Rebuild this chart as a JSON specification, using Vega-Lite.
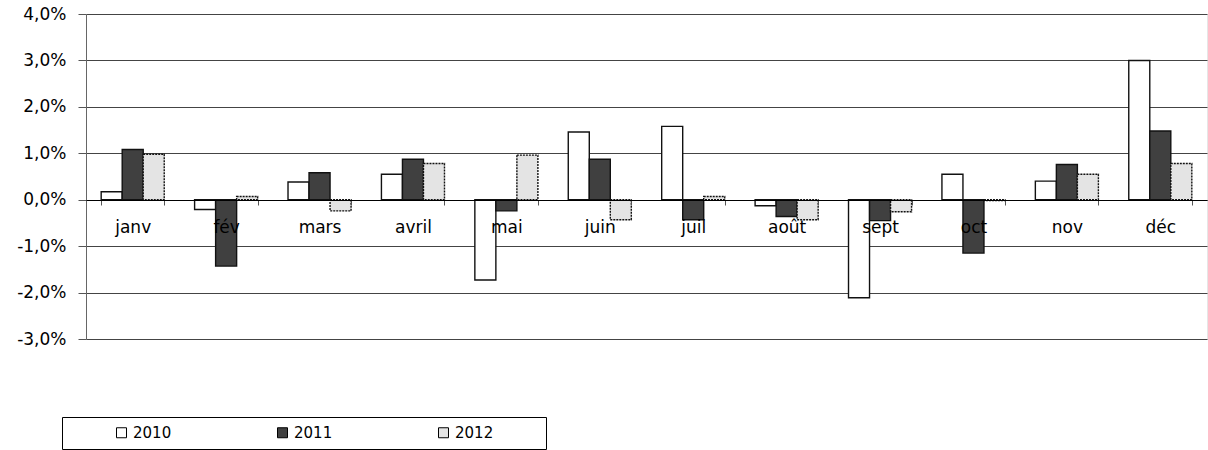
{
  "$schema": "https://vega.github.io/schema/vega-lite/v6.json",
  "autosize": {"type": "none"},
  "padding": {"left": 86, "top": 14, "right": 1, "bottom": 111},
  "width": 1121,
  "height": 325,
  "background": "white",
  "config": {
    "font": "DejaVu Sans",
    "view": {"stroke": "#e6e6e6"}
  },
  "data": {
    "values": [
      {"month": "janv", "year": "2010", "value": 0.17},
      {"month": "janv", "year": "2011", "value": 1.08},
      {"month": "janv", "year": "2012", "value": 0.98},
      {"month": "fév", "year": "2010", "value": -0.21},
      {"month": "fév", "year": "2011", "value": -1.43},
      {"month": "fév", "year": "2012", "value": 0.07},
      {"month": "mars", "year": "2010", "value": 0.38},
      {"month": "mars", "year": "2011", "value": 0.58},
      {"month": "mars", "year": "2012", "value": -0.24},
      {"month": "avril", "year": "2010", "value": 0.55},
      {"month": "avril", "year": "2011", "value": 0.87},
      {"month": "avril", "year": "2012", "value": 0.78},
      {"month": "mai", "year": "2010", "value": -1.73},
      {"month": "mai", "year": "2011", "value": -0.24},
      {"month": "mai", "year": "2012", "value": 0.96},
      {"month": "juin", "year": "2010", "value": 1.46},
      {"month": "juin", "year": "2011", "value": 0.87},
      {"month": "juin", "year": "2012", "value": -0.43},
      {"month": "juil", "year": "2010", "value": 1.58},
      {"month": "juil", "year": "2011", "value": -0.43},
      {"month": "juil", "year": "2012", "value": 0.07},
      {"month": "août", "year": "2010", "value": -0.13},
      {"month": "août", "year": "2011", "value": -0.36},
      {"month": "août", "year": "2012", "value": -0.43},
      {"month": "sept", "year": "2010", "value": -2.11},
      {"month": "sept", "year": "2011", "value": -0.45},
      {"month": "sept", "year": "2012", "value": -0.26},
      {"month": "oct", "year": "2010", "value": 0.55},
      {"month": "oct", "year": "2011", "value": -1.15},
      {"month": "oct", "year": "2012", "value": -0.02},
      {"month": "nov", "year": "2010", "value": 0.40},
      {"month": "nov", "year": "2011", "value": 0.76},
      {"month": "nov", "year": "2012", "value": 0.55},
      {"month": "déc", "year": "2010", "value": 3.0},
      {"month": "déc", "year": "2011", "value": 1.48},
      {"month": "déc", "year": "2012", "value": 0.78}
    ]
  },
  "mark": {"type": "bar", "stroke": "#111", "strokeWidth": 1.4},
  "encoding": {
    "x": {
      "field": "month",
      "type": "nominal",
      "sort": null,
      "scale": {"paddingInner": 0.325, "paddingOuter": 0.1625},
      "axis": {
        "title": null,
        "orient": "bottom",
        "offset": -139,
        "zindex": 1,
        "labelAngle": 0,
        "labelFontSize": 17,
        "labelColor": "black",
        "labelPadding": 14,
        "domainColor": "black",
        "domainWidth": 1,
        "tickBand": "extent",
        "tickSize": 5,
        "tickColor": "#555",
        "grid": false
      }
    },
    "xOffset": {
      "field": "year",
      "type": "nominal",
      "sort": ["2010", "2011", "2012"],
      "scale": {"paddingInner": 0, "paddingOuter": 0}
    },
    "y": {
      "field": "value",
      "type": "quantitative",
      "scale": {"domain": [-3, 4], "nice": false, "zero": false},
      "axis": {
        "title": null,
        "values": [-3, -2, -1, 0, 1, 2, 3, 4],
        "labelExpr": "replace(replace(format(datum.value, '.1f'), '.', ','), '\u2212', '-') + '%'",
        "labelFontSize": 17,
        "labelColor": "black",
        "labelPadding": 12,
        "tickSize": 8,
        "tickColor": "#555",
        "domainColor": "#666",
        "grid": true,
        "gridColor": "#444",
        "gridWidth": 1
      }
    },
    "strokeDash": {
      "condition": {"test": "datum.year == '2012'", "value": [2, 1]},
      "value": [1, 0]
    },
    "fill": {
      "field": "year",
      "type": "nominal",
      "scale": {"domain": ["2010", "2011", "2012"], "range": ["#ffffff", "#404040", "#e4e4e4"]},
      "legend": {
        "orient": "none",
        "legendX": -24,
        "legendY": 403,
        "direction": "horizontal",
        "columns": 3,
        "title": " ",
        "titleOrient": "left",
        "titleFontSize": 15,
        "titlePadding": 44,
        "strokeColor": "black",
        "fillColor": "white",
        "padding": 8,
        "symbolType": "square",
        "symbolSize": 100,
        "symbolStrokeColor": "black",
        "symbolStrokeWidth": 1,
        "labelFontSize": 15,
        "labelColor": "black",
        "labelOffset": 4,
        "columnPadding": 103,
        "labelExpr": "datum.label == '2012' ? '2012\u2800\u2800\u2800\u2800' : datum.label"
      }
    }
  }
}
